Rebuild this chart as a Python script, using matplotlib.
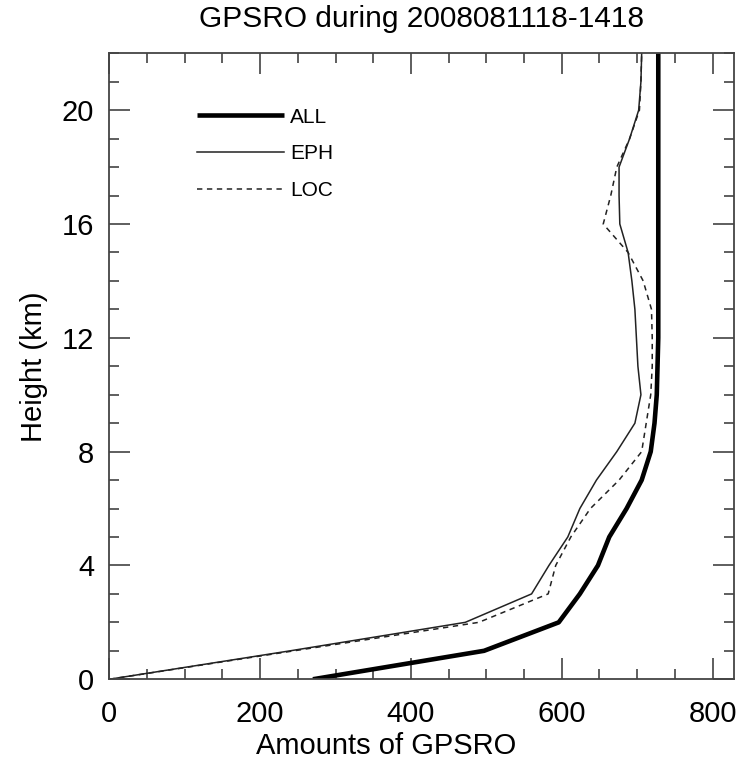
import matplotlib
matplotlib.use("Agg")
import matplotlib.pyplot as plt
import numpy as np

plt.rcParams['font.family'] = ['Liberation Sans', 'DejaVu Sans']

### Profile data ###
height = np.arange(0, 23)  # [km]
all_obs = [270, 497, 596, 624, 648, 663, 686, 706, 718, 723, 726, 727,
           728, 728, 728, 728, 728, 728, 728, 728, 728, 728, 728]
eph_obs = [0, 240, 472, 560, 583, 608, 624, 646, 673, 697, 705, 701,
           699, 697, 693, 688, 677, 676, 676, 690, 702, 705, 706]
loc_obs = [0, 245, 490, 582, 592, 612, 638, 676, 706, 712, 718, 720,
           720, 719, 708, 688, 655, 665, 673, 690, 703, 705, 706]

fig = plt.figure(figsize=(7.39, 7.69), dpi=100)
ax = fig.add_axes([0.1479, 0.1167, 0.8449, 0.8140])

ax.plot(all_obs, height, color='black', lw=3.3, label='ALL', solid_capstyle='butt')
ax.plot(eph_obs, height, color='#222222', lw=1.1, label='EPH')
ax.plot(loc_obs, height, color='#222222', lw=1.1, linestyle=(0, (3.5, 3)), label='LOC')

ax.set_xlim(0, 828)
ax.set_ylim(0, 22)
ax.set_xticks([0, 200, 400, 600, 800])
ax.set_xticks(np.arange(0, 828, 50), minor=True)
ax.set_yticks([0, 4, 8, 12, 16, 20])
ax.set_yticks(np.arange(0, 23, 1), minor=True)
ax.tick_params(which='both', direction='in', top=True, right=True,
               colors='#333333', labelcolor='black', labelsize=21, width=1.1)
ax.tick_params(which='major', length=15, pad=11)
ax.tick_params(axis='x', which='major', pad=15)
ax.tick_params(which='minor', length=7.5)
for s in ax.spines.values():
    s.set_color('#444444')
    s.set_linewidth(1.3)

ax.set_xlabel('Amounts of GPSRO', fontsize=21)
ax.xaxis.set_label_coords(0.443, -0.085)
ax.set_ylabel('Height (km)', fontsize=21)
ax.yaxis.set_label_coords(-0.098, 0.5)
ax.set_title('GPSRO during 2008081118-1418', fontsize=21.5, pad=19)

ax.legend(loc='upper left', bbox_to_anchor=(0.266, 0.860), bbox_transform=fig.transFigure,
          frameon=False, fontsize=15, handlelength=4.2, handletextpad=0.3,
          labelspacing=0.85, borderpad=0, borderaxespad=0)

fig.savefig('out.png', dpi=100)
